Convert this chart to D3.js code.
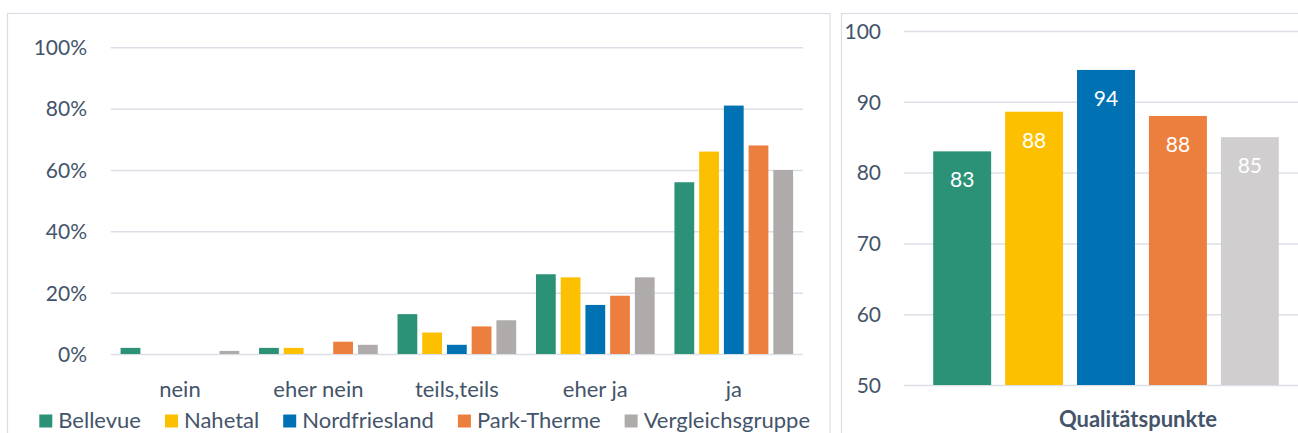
<!DOCTYPE html>
<html>
<head>
<meta charset="utf-8">
<script src="https://cdn.jsdelivr.net/npm/d3@7"></script>
<style>
  html, body { margin: 0; padding: 0; background: #fff; }
  svg { display: block; font-family: Lato, "Open Sans", sans-serif; }
</style>
</head>
<body>
<svg id="chart" width="1298" height="433"></svg>
<script>
// ---------- data ----------
const categories = ["nein", "eher nein", "teils,teils", "eher ja", "ja"];
const seriesNames = ["Bellevue", "Nahetal", "Nordfriesland", "Park-Therme", "Vergleichsgruppe"];
const bellevue        = [0.02, 0.02, 0.13, 0.26, 0.56];
const nahetal         = [0.00, 0.02, 0.07, 0.25, 0.66];
const nordfriesland   = [0.00, 0.00, 0.03, 0.16, 0.81];
const parkTherme      = [0.00, 0.04, 0.09, 0.19, 0.68];
const vergleichsgruppe= [0.01, 0.03, 0.11, 0.25, 0.60];
const leftTicks = [0, 0.2, 0.4, 0.6, 0.8, 1.0];

const qualityCategory = "Qualitätspunkte";
const qualityValues = [83, 88.6, 94.5, 88, 85];
const qualityLabels = ["83", "88", "94", "88", "85"];
const rightTicks = [50, 60, 70, 80, 90, 100];

// ---------- styles ----------
const leftColors  = ["#2C9277", "#FCC000", "#0071B3", "#ED7F3E", "#AEABAA"];
const rightColors = ["#2C9277", "#FCC000", "#0071B3", "#ED7F3E", "#D0CECE"];
const textColor = "#44546A";
const gridColor = "#DCE0E6";
const borderColor = "#D9DEE5";

const svg = d3.select("#chart");

// panel borders
svg.append("rect").attr("x", 7.5).attr("y", 13.5).attr("width", 822.5).attr("height", 440)
  .attr("fill", "none").attr("stroke", borderColor).attr("stroke-width", 1.2);
svg.append("rect").attr("x", 841.5).attr("y", 13.5).attr("width", 520).attr("height", 440)
  .attr("fill", "none").attr("stroke", borderColor).attr("stroke-width", 1.2);

// ---------- left chart ----------
const L = { left: 110.7, right: 803, top: 47.3, bottom: 354 };
const seriesData = [bellevue, nahetal, nordfriesland, parkTherme, vergleichsgruppe];

const x0 = d3.scaleBand().domain(categories).range([L.left, L.right]).padding(0);
const x1 = d3.scaleBand().domain(seriesNames).range([0, x0.bandwidth()])
  .paddingInner(0.2).paddingOuter(0.4);
const yL = d3.scaleLinear().domain([0, 1]).range([L.bottom, L.top]);

const yAxisL = svg.append("g").attr("transform", `translate(${L.left},0)`)
  .call(d3.axisLeft(yL).tickValues(leftTicks).tickFormat(d3.format(".0%"))
    .tickSize(-(L.right - L.left)).tickPadding(23.7));
yAxisL.select(".domain").remove();
yAxisL.selectAll(".tick line").attr("stroke", gridColor).attr("stroke-width", 1.5);
yAxisL.selectAll(".tick text").attr("fill", textColor).style("font-size", "21px")
  .style("font-family", "Lato, sans-serif").attr("dy", "0.35em");

const groups = svg.append("g").selectAll("g").data(categories).join("g")
  .attr("transform", d => `translate(${x0(d)},0)`);
groups.selectAll("rect")
  .data((c, ci) => seriesNames.map((s, si) => ({ s, si, v: seriesData[si][ci] })))
  .join("rect")
  .attr("x", d => x1(d.s))
  .attr("width", x1.bandwidth())
  .attr("y", d => yL(d.v))
  .attr("height", d => yL(0) - yL(d.v))
  .attr("fill", d => leftColors[d.si]);

// category labels
const xAxisL = svg.append("g").attr("transform", `translate(0,${L.bottom})`)
  .call(d3.axisBottom(x0).tickSize(0).tickPadding(27));
xAxisL.select(".domain").remove();
xAxisL.selectAll(".tick text").attr("fill", textColor).style("font-size", "22px")
  .style("font-family", "Lato, sans-serif");

// legend
const legend = svg.append("g").attr("transform", "translate(39.3,0)");
let lx = 0;
seriesNames.forEach((name, i) => {
  const g = legend.append("g").attr("transform", `translate(${lx},0)`);
  g.append("rect").attr("x", 0).attr("y", 414.5).attr("width", 13).attr("height", 13)
    .attr("fill", leftColors[i]);
  const t = g.append("text").attr("x", 19).attr("y", 427.5).text(name)
    .attr("fill", textColor).style("font-size", "22px");
  lx += 19 + t.node().getComputedTextLength() + 24;
});

// ---------- right chart ----------
const R = { left: 904, right: 1372, top: 31, bottom: 385 };
const xR = d3.scaleBand().domain([qualityCategory]).range([R.left, R.right]);
const xRs = d3.scaleBand().domain(seriesNames).range([926, 1286]).paddingInner(0.194).paddingOuter(0.1);
const yR = d3.scaleLinear().domain([50, 100]).range([R.bottom, R.top]);

const yAxisR = svg.append("g").attr("transform", `translate(${R.left},0)`)
  .call(d3.axisLeft(yR).tickValues(rightTicks).tickFormat(d3.format("d"))
    .tickSize(-(1298 - R.left + 10)).tickPadding(23));
yAxisR.select(".domain").remove();
yAxisR.selectAll(".tick line").attr("stroke", gridColor).attr("stroke-width", 1.5);
yAxisR.selectAll(".tick text").attr("fill", textColor).style("font-size", "21px")
  .style("font-family", "Lato, sans-serif").attr("dy", "0.35em");

const rbars = svg.append("g");
rbars.selectAll("rect").data(qualityValues).join("rect")
  .attr("x", (d, i) => xRs(seriesNames[i]))
  .attr("width", xRs.bandwidth())
  .attr("y", d => yR(d))
  .attr("height", d => yR(50) - yR(d))
  .attr("fill", (d, i) => rightColors[i]);
rbars.selectAll("text").data(qualityValues).join("text")
  .attr("x", (d, i) => xRs(seriesNames[i]) + xRs.bandwidth() / 2)
  .attr("y", d => yR(d) + 36)
  .attr("text-anchor", "middle")
  .attr("fill", "#fff")
  .style("font-size", "21px")
  .text((d, i) => qualityLabels[i]);

const xAxisR = svg.append("g").attr("transform", `translate(0,${R.bottom})`)
  .call(d3.axisBottom(xR).tickSize(0).tickPadding(26));
xAxisR.select(".domain").remove();
xAxisR.selectAll(".tick text").attr("fill", textColor).style("font-size", "22px")
  .style("font-weight", "bold").style("font-family", "Lato, sans-serif");
</script>
</body>
</html>
